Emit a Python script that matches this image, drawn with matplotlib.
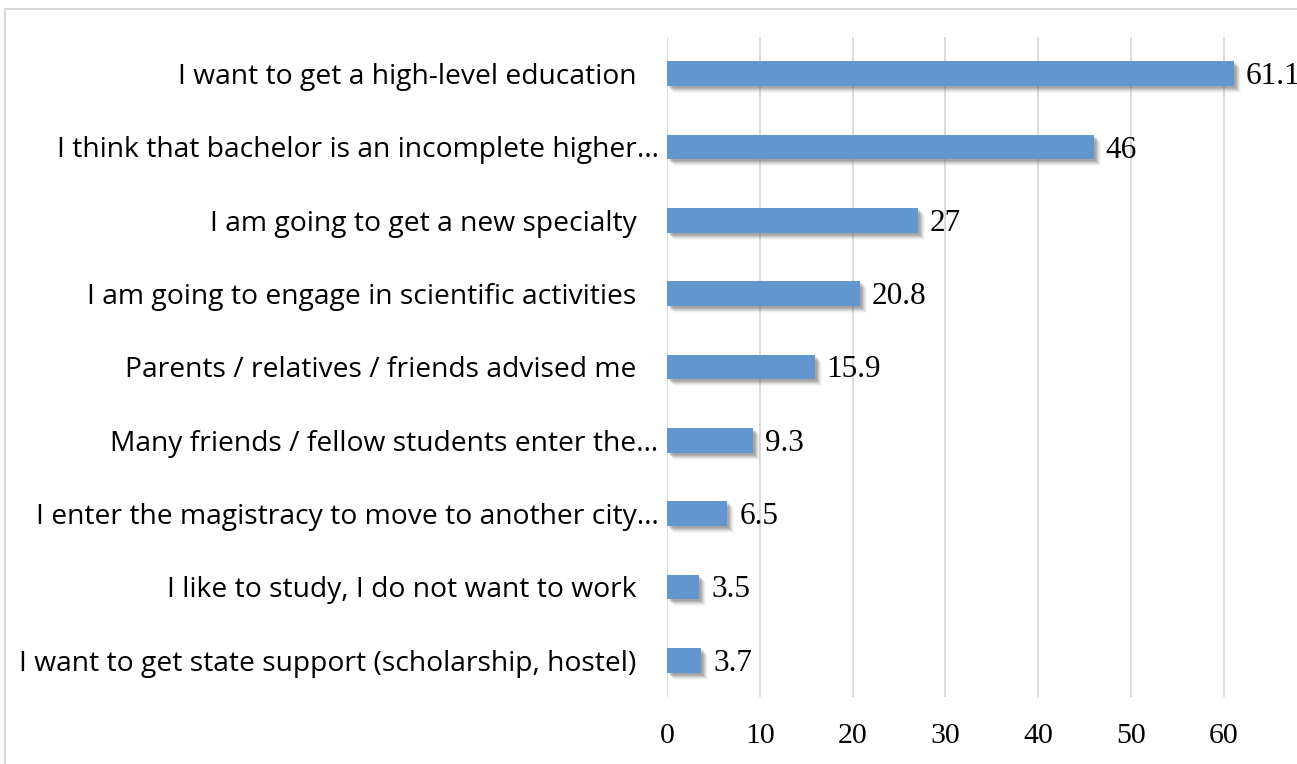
import matplotlib
matplotlib.use("Agg")
from matplotlib import pyplot as plt
from matplotlib import transforms
from matplotlib.patches import Rectangle

# 数据
labels = [
    "I want to get a high-level education   ",
    "I think that bachelor is an incomplete higher…",
    "I am going to get a new specialty   ",
    "I am going to engage in scientific activities   ",
    "Parents / relatives / friends advised me   ",
    "Many friends / fellow students enter the…",
    "I enter the magistracy to move to another city…",
    "I like to study, I do not want to work   ",
    "I want to get state support (scholarship, hostel)   ",
]
values = [61.1, 46, 27, 20.8, 15.9, 9.3, 6.5, 3.5, 3.7]
value_text = ["61.1", "46", "27", "20.8", "15.9", "9.3", "6.5", "3.5", "3.7"]
x_ticks = [0, 10, 20, 30, 40, 50, 60]

bar_color = "#6196CE"
pos = list(range(len(values)))

fig = plt.figure(figsize=(12.97, 7.64), dpi=100)
ax = fig.add_axes([667 / 1297, 67 / 764, 1 - 667 / 1297, 660 / 764])

# 阴影 (模拟 Excel 的投影效果)
for dx, dy, a in [(2, -2, 0.16), (3, -3, 0.16), (4, -4, 0.14), (5, -5, 0.10), (6, -6, 0.07), (7, -7, 0.04)]:
    tr = transforms.offset_copy(ax.transData, fig=fig, x=dx, y=dy, units="dots")
    ax.barh(pos, values, height=0.34, color="#555555", alpha=a, transform=tr, zorder=2, linewidth=0)

ax.barh(pos, values, height=0.34, color=bar_color, zorder=3, linewidth=0)

# 数值标签 (61.1 在原图中被右边缘截断)
for p, v, t in zip(pos, values, value_text):
    ax.annotate(t, xy=(v, p), xytext=(12, -3), textcoords="offset pixels",
                va="center", ha="left", fontsize=22.5, family="Liberation Serif",
                color="black", annotation_clip=False)

ax.set_xlim(0, 67.9)
ax.set_ylim(8.5, -0.5)
ax.set_yticks(pos)
ax.set_yticklabels(labels, fontsize=20.3, family="Open Sans")
ax.set_xticks(x_ticks)
ax.set_xticklabels([str(t) for t in x_ticks], fontsize=21.5, family="Liberation Serif")
ax.tick_params(axis="y", length=0, pad=6)
ax.tick_params(axis="x", length=0, pad=19)
for s in ax.spines.values():
    s.set_visible(False)
ax.grid(True, axis="x", color="#D9D9D9", linewidth=1.3, zorder=0)
ax.set_axisbelow(True)

# 外框
fig.patches.append(Rectangle((5 / 1297, -0.1), 1.2, (755 / 764) + 0.1, transform=fig.transFigure,
                             fill=False, edgecolor="#D9D9D9", linewidth=1.5))

fig.savefig("out.png", dpi=100)
